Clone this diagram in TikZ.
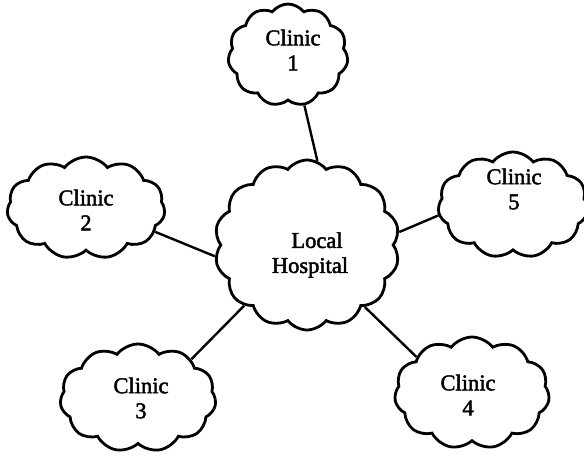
\documentclass[tikz,border=0pt]{standalone}
\usepackage{fontspec}
\setmainfont{Liberation Serif}
\newfontfamily\inkfont[FakeBold=2]{Liberation Serif}
\usetikzlibrary{shapes.symbols}
\begin{document}
\begin{tikzpicture}[x=1pt,y=-1pt,
  puff/.style={cloud, draw, line width=2.8pt, cloud puffs=11, cloud puff arc=105,
    cloud ignores aspect, inner sep=0pt},
  lbl/.style={align=center, inner sep=0pt, font=\inkfont\fontsize{22.5}{25}\selectfont},
  link/.style={line width=2.4pt}]
\useasboundingbox (0,0) rectangle (584,461);
% clouds
\node[puff, minimum width=120pt, minimum height=102pt] (c1) at (288,55) {};
\node[puff, minimum width=185pt, minimum height=170pt, cloud puffs=14] (h) at (307,245) {};
\node[puff, minimum width=158pt, minimum height=102pt] (c2) at (86,208) {};
\node[puff, minimum width=150pt, minimum height=106pt] (c5) at (513,205) {};
\node[puff, minimum width=156pt, minimum height=108pt] (c3) at (138,398) {};
\node[puff, minimum width=155pt, minimum height=112pt] (c4) at (472,393) {};
% labels
\node[lbl] (t1) at (293,50) {Clinic\\1};
\node[lbl] (th) at (310,255) {\hspace*{14pt}Local\\Hospital};
\node[lbl] (t2) at (86,210) {Clinic\\2};
\node[lbl] (t5) at (514,189) {Clinic\\5};
\node[lbl] (t3) at (141,398) {Clinic\\3};
\node[lbl] (t4) at (468,395) {Clinic\\4};
% links to the hospital
\draw[link] (c1.-72) -- (h.83);
\draw[link] (c2.-19) -- (h.187);
\draw[link] (c5.188) -- (h.8);
\draw[link] (c3.36) -- (h.224);
\draw[link] (c4.147) -- (h.-47);
\end{tikzpicture}
\end{document}
